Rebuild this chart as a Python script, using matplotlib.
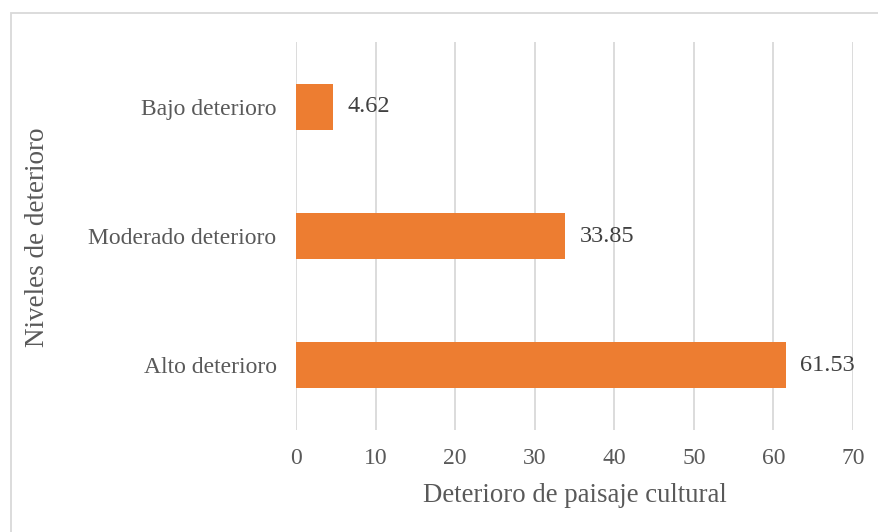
import matplotlib.pyplot as plt
from matplotlib.patches import Rectangle

categories = ["Alto deterioro", "Moderado deterioro", "Bajo deterioro"]
values = [61.53, 33.85, 4.62]
x_ticks = [0, 10, 20, 30, 40, 50, 60, 70]

plt.rcParams['font.family'] = ['Liberation Serif', 'DejaVu Serif']
text_color = '#595959'

fig = plt.figure(figsize=(8.79, 5.32), dpi=100)
ax = fig.add_axes([296 / 879, 1 - 430 / 532, (853 - 296) / 879, (430 - 42) / 532])

# outer chart border
fig.patches.append(Rectangle((11 / 879, -0.02), 1.0, 1 - 13 / 532 + 0.02,
                             transform=fig.transFigure, fill=False,
                             edgecolor='#d9d9d9', linewidth=1.3))

ax.barh(range(len(categories)), values, height=0.355, color='#ED7D31', zorder=3)
for i, v in enumerate(values):
    ax.text(v + 1.8, i, f"{v:.2f}", va='center', ha='left', fontsize=17.5, color='#404040')

ax.set_xlim(0, 70)
ax.set_ylim(-0.5, 2.5)
ax.set_xticks(x_ticks)
ax.set_yticks(range(len(categories)))
ax.set_yticklabels(categories)
ax.tick_params(axis='both', length=0, labelsize=17, labelcolor=text_color)
ax.tick_params(axis='y', pad=14)
ax.tick_params(axis='x', pad=13)
ax.grid(axis='x', color='#d9d9d9', linewidth=1.3, zorder=0)
for s in ax.spines.values():
    s.set_visible(False)

ax.set_xlabel("Deterioro de paisaje cultural", fontsize=19.3, color=text_color, labelpad=10)
fig.text(38 / 879, 1 - 237 / 532, "Niveles de deterioro", rotation=90, fontsize=19.5,
         color=text_color, ha='center', va='center')

fig.savefig("out.png", dpi=100)
